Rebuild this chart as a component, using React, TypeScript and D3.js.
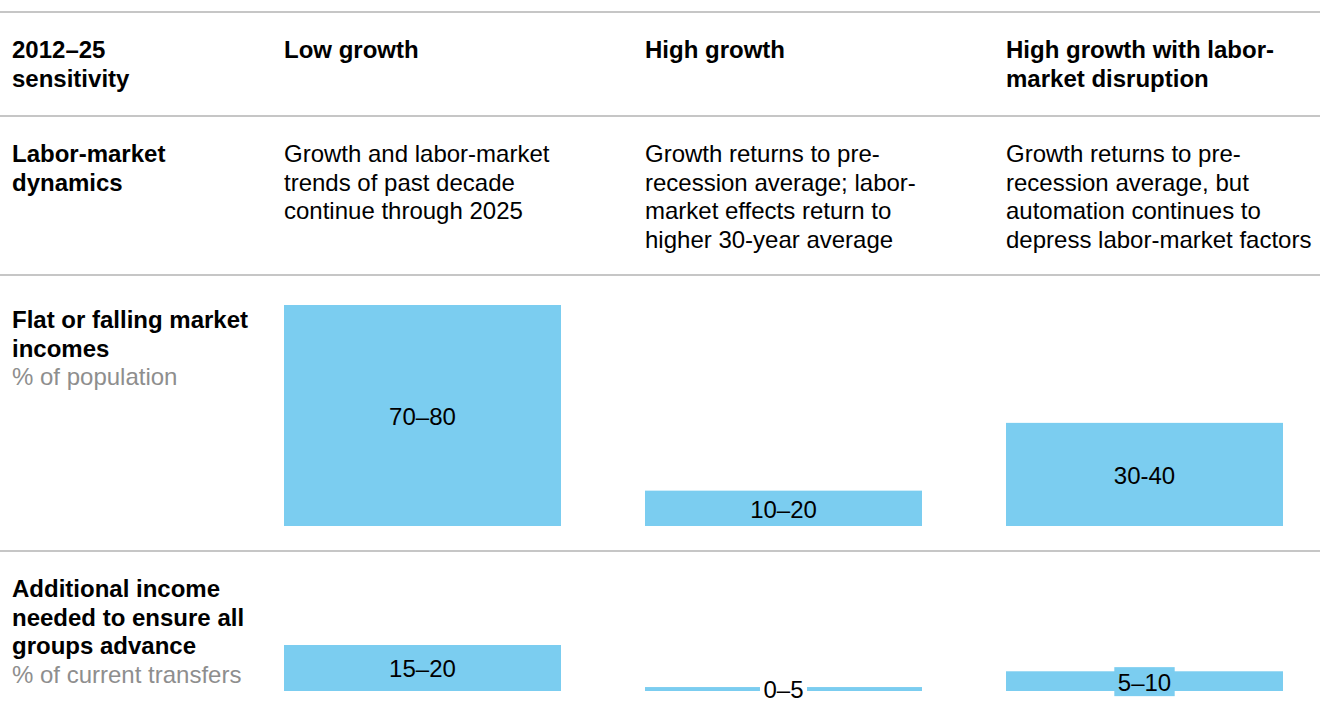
import React, { useRef, useEffect } from 'react';
import * as d3 from 'd3';

// column headers (already split into lines as in the print)
const scenarios = ['Low growth', 'High growth', 'High growth with labor-market disruption'];
const scenarioLines = [['Low growth'], ['High growth'], ['High growth with labor-', 'market disruption']];
const dynamicsLines = [
  ['Growth and labor-market', 'trends of past decade', 'continue through 2025'],
  ['Growth returns to pre-', 'recession average; labor-', 'market effects return to', 'higher 30-year average'],
  ['Growth returns to pre-', 'recession average, but', 'automation continues to', 'depress labor-market factors'],
];

// row 1: flat or falling market incomes, % of population
const flatIncomeValues = [75, 12, 35];
const flatIncomeLabels = ['70–80', '10–20', '30-40'];

// row 2: additional income needed, % of current transfers
const transferValues = [17.5, 1.5, 7.5];
const transferLabels = ['15–20', '0–5', '5–10'];

const BLUE = '#7bcdf0';
const RULE = '#c6c6c6';
const GREY = '#8e8e8e';
const FONT = '"Liberation Sans", Arial, Helvetica, sans-serif';
const FS = 24;

export default function App() {
  const ref = useRef<SVGSVGElement | null>(null);

  useEffect(() => {
    if (!ref.current) return;
    const svg = d3.select(ref.current);
    svg.selectAll('*').remove();

    const width = 1320;
    const lh = 28.7;

    const x = d3.scaleBand<string>()
      .domain(scenarios)
      .range([284, 1283])
      .paddingInner(0.2327)
      .paddingOuter(0);

    // horizontal rules
    svg.selectAll('line.rule')
      .data([12, 116, 275, 551])
      .enter()
      .append('line')
      .attr('x1', 0)
      .attr('x2', width)
      .attr('y1', d => d)
      .attr('y2', d => d)
      .attr('stroke', RULE)
      .attr('stroke-width', 2);

    const textBlock = (g: any, lines: string[], x0: number, y0: number, weight: string, color = '#000') => {
      lines.forEach((t, i) => {
        g.append('text')
          .attr('x', x0)
          .attr('y', y0 + i * lh)
          .attr('font-family', FONT)
          .attr('font-size', FS)
          .attr('font-weight', weight)
          .attr('fill', color)
          .text(t);
      });
    };

    // header row
    textBlock(svg, ['2012–25', 'sensitivity'], 12, 58, 'bold');
    scenarios.forEach((s, i) => textBlock(svg, scenarioLines[i], x(s)!, 58, 'bold'));

    // labor-market dynamics row
    textBlock(svg, ['Labor-market', 'dynamics'], 12, 162, 'bold');
    scenarios.forEach((s, i) => textBlock(svg, dynamicsLines[i], x(s)!, 162, 'normal'));

    // row labels
    textBlock(svg, ['Flat or falling market', 'incomes'], 12, 328, 'bold');
    textBlock(svg, ['% of population'], 12, 328 + 2 * lh, 'normal', GREY);
    textBlock(svg, ['Additional income', 'needed to ensure all', 'groups advance'], 12, 597, 'bold');
    textBlock(svg, ['% of current transfers'], 12, 597 + 3 * lh, 'normal', GREY);

    const drawBars = (values: number[], labels: string[], base: number, y: d3.ScaleLinear<number, number>) => {
      const g = svg.append('g');
      g.selectAll('rect.bar')
        .data(values)
        .enter()
        .append('rect')
        .attr('x', (d, i) => x(scenarios[i])!)
        .attr('width', x.bandwidth())
        .attr('y', d => y(d))
        .attr('height', d => base - y(d))
        .attr('fill', BLUE);

      values.forEach((d, i) => {
        const cx = x(scenarios[i])! + x.bandwidth() / 2;
        const cy = (y(d) + base) / 2 + 1;
        const h = base - y(d);
        const t = g.append('text')
          .attr('x', cx)
          .attr('y', cy)
          .attr('dy', '0.35em')
          .attr('text-anchor', 'middle')
          .attr('font-family', FONT)
          .attr('font-size', FS)
          .attr('fill', '#000')
          .text(labels[i]);
        if (h < 26) {
          const w = (t.node() as SVGTextElement).getComputedTextLength() + 7;
          g.insert('rect', () => t.node())
            .attr('x', cx - w / 2)
            .attr('y', cy - 15)
            .attr('width', w)
            .attr('height', 29)
            .attr('fill', h < 8 ? '#fff' : BLUE);
        }
      });
    };

    drawBars(flatIncomeValues, flatIncomeLabels, 526, d3.scaleLinear().domain([0, 75]).range([526, 305]));
    drawBars(transferValues, transferLabels, 691, d3.scaleLinear().domain([0, 17.5]).range([691, 645]));
  }, []);

  return (
    <svg
      ref={ref}
      width={1320}
      height={706}
      style={{ position: 'absolute', left: 0, top: 0, background: '#fff' }}
    />
  );
}
